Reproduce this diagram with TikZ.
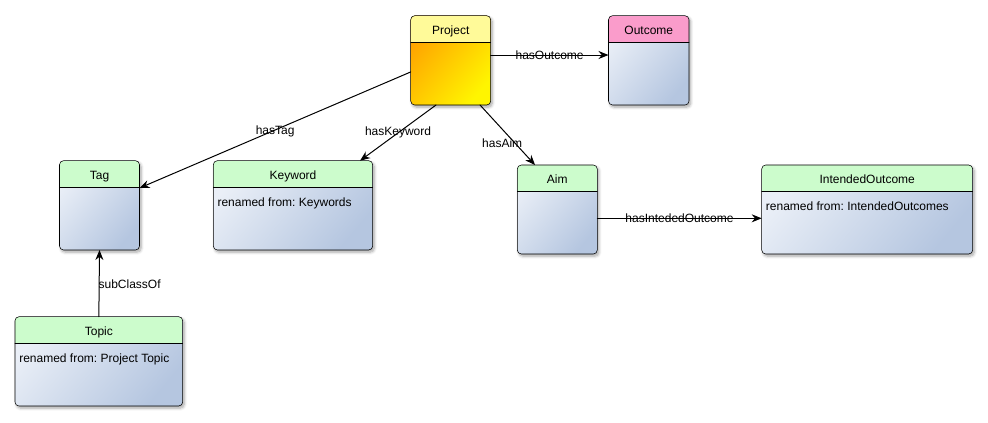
\documentclass[tikz,border=0pt]{standalone}
\usepackage{fontspec}
\setmainfont{Liberation Sans}
\usetikzlibrary{arrows.meta,shadows.blur}
\frenchspacing

\definecolor{headgreen}{HTML}{CCFCCC}
\definecolor{headyellow}{HTML}{FFFA99}
\definecolor{headpink}{HTML}{FA9CCB}
\definecolor{bodylight}{HTML}{EAEFF7}
\definecolor{bodydark}{HTML}{B5C6E0}
\definecolor{projorange}{HTML}{FFA200}
\definecolor{projyellow}{HTML}{FFF500}

% #1 name, #2 top left corner, #3 width, #4 height, #5 header fill,
% #6 body style, #7 title, #8 note
\newcommand{\classbox}[8]{%
  \node[classbody, #6, minimum width=#3*0.75pt, minimum height=#4*0.75pt] (#1) at #2 {};
  \begin{scope}
    \clip[rounded corners=3pt] (#1.north west) rectangle (#1.south east);
    \fill[#5] (#1.north west) rectangle ([yshift=-20pt]#1.north east);
  \end{scope}
  \draw[rounded corners=3pt] (#1.north west) rectangle (#1.south east);
  \draw ([yshift=-20pt]#1.north west) -- ([yshift=-20pt]#1.north east);
  \node[classtitle] (#1-title) at ([yshift=-13.9pt]#1.north) {#7};
  \node[classnote] (#1-note) at ([xshift=3pt, yshift=-34.2pt]#1.north west) {#8};
}

\begin{document}
\begin{tikzpicture}[x=0.75pt, y=-0.75pt, line cap=round, line join=round, font=\fontsize{9}{11}\selectfont, >={Stealth[length=7.5pt, width=6pt]}]
  \tikzset{
    classbody/.style={anchor=north west, inner sep=0pt, outer sep=0pt, rounded corners=3pt,
      blur shadow={shadow xshift=1.2pt, shadow yshift=-1.6pt, shadow blur steps=6, shadow opacity=35}},
    bluebody/.style={top color=bodylight, bottom color=bodydark, shading angle=50},
    orangebody/.style={top color=projorange, bottom color=projyellow, shading angle=50},
    classtitle/.style={anchor=base, inner sep=0pt},
    classnote/.style={anchor=base west, inner sep=0pt},
    rel/.style={->, line width=0.75pt},
    rellabel/.style={inner sep=0pt}
  }
  \useasboundingbox (0,0) rectangle (988,422);

  \classbox{project}{(410.7,15.7)}{80}{89.3}{headyellow}{orangebody}{Project}{}
  \classbox{outcome}{(608.5,15.7)}{80.5}{89.3}{headpink}{bluebody}{Outcome}{}
  \classbox{tag}{(59.5,160.7)}{80}{89.3}{headgreen}{bluebody}{Tag}{}
  \classbox{keyword}{(213.3,160.7)}{159.4}{89.3}{headgreen}{bluebody}{Keyword}{renamed from: Keywords}
  \classbox{aim}{(517.3,165)}{80}{89}{headgreen}{bluebody}{Aim}{}
  \classbox{intended}{(761.7,165)}{211}{89}{headgreen}{bluebody}{IntendedOutcome}{renamed from: IntendedOutcomes}
  \classbox{topic}{(15,316.7)}{167.7}{89.3}{headgreen}{bluebody}{Topic}{renamed from: Project Topic}

  \draw[rel] ([yshift=4pt]project.east) -- ([yshift=4pt]outcome.west)
    node[rellabel, midway] (l-outcome) {hasOutcome};
  \draw[rel] ([yshift=-8.7pt]project.west) -- ([yshift=13pt]tag.east)
    node[rellabel, midway, yshift=-1pt] (l-tag) {hasTag};
  \draw[rel] ([xshift=19pt]project.south west) -- ([xshift=-9.5pt]keyword.north east)
    node[rellabel, midway] (l-keyword) {hasKeyword};
  \draw[rel] ([xshift=-8pt]project.south east) -- ([xshift=13.3pt]aim.north west)
    node[rellabel, midway, xshift=-4pt, yshift=-6pt] (l-aim) {hasAim};
  \draw[rel] ([yshift=-6.6pt]aim.east) -- ([yshift=-6.6pt]intended.west)
    node[rellabel, midway] (l-intended) {hasIntededOutcome};
  \draw[rel] (topic.north) -- (tag.south)
    node[rellabel, midway, anchor=west, xshift=-0.8pt, yshift=-1pt] (l-sub) {subClassOf};
\end{tikzpicture}
\end{document}
